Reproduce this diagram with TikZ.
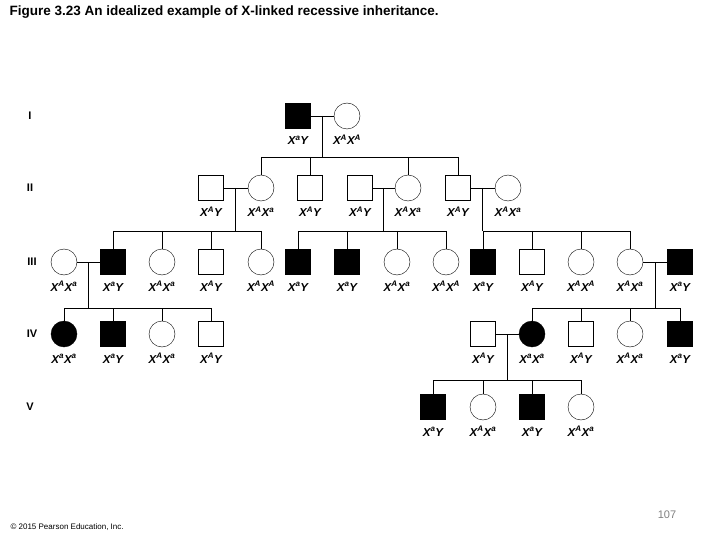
\documentclass[tikz,border=0pt]{standalone}
\usepackage{fontspec}
\setmainfont{Liberation Sans}
\usetikzlibrary{positioning}
\newcommand{\Xg}[1]{X\textsuperscript{#1}}
\begin{document}
\begin{tikzpicture}[
  x=1pt, y=-1pt,
  male/.style={draw, rectangle, minimum size=25pt, inner sep=0pt, fill=white},
  fem/.style={draw, circle, minimum size=26pt, inner sep=0pt, fill=white},
  aff/.style={fill=black},
  gen/.style={font=\bfseries\itshape\fontsize{11.5}{11.5}\selectfont, inner sep=0pt, anchor=base},
  roman/.style={font=\bfseries\fontsize{11}{11}\selectfont},
  link/.style={draw, line width=0.7pt}
]
\useasboundingbox (0,0) rectangle (720,540);

\node[anchor=west, font=\bfseries\fontsize{13.5}{13.5}\selectfont] (title) at (6,12)
  {Figure 3.23 An idealized example of X-linked recessive inheritance.};
\node[anchor=west, font=\fontsize{8}{8}\selectfont] (copy) at (7,527) {\textcopyright{} 2015 Pearson Education, Inc.};
\node[font=\fontsize{11}{11}\selectfont, text=gray] (page) at (667,515) {107};

% generation numerals
\node[roman] (rI) at (30,116) {I};
\node[roman] (rII) at (30,188) {II};
\node[roman] (rIII) at (32,262) {III};
\node[roman] (rIV) at (32,334) {IV};
\node[roman] (rV) at (30,407) {V};

% generation I
\node[male,aff] (i1) at (298,116) {};
\node[fem] (i2) at (347,116) {};

% generation II
\node[male] (ii1) at (211,188) {};
\node[fem] (ii2) at (261,188) {};
\node[male] (ii3) at (310,188) {};
\node[male] (ii4) at (360,188) {};
\node[fem] (ii5) at (408,188) {};
\node[male] (ii6) at (458,188) {};
\node[fem] (ii7) at (508,188) {};

% generation III
\node[fem] (iii1) at (64,262) {};
\node[male,aff] (iii2) at (113,262) {};
\node[fem] (iii3) at (162,262) {};
\node[male] (iii4) at (211,262) {};
\node[fem] (iii5) at (261,262) {};
\node[male,aff] (iii6) at (298,262) {};
\node[male,aff] (iii7) at (347,262) {};
\node[fem] (iii8) at (397,262) {};
\node[fem] (iii9) at (446,262) {};
\node[male,aff] (iii10) at (483,262) {};
\node[male] (iii11) at (532,262) {};
\node[fem] (iii12) at (581,262) {};
\node[fem] (iii13) at (630,262) {};
\node[male,aff] (iii14) at (680,262) {};

% generation IV
\node[fem,aff] (iv1) at (64,334) {};
\node[male,aff] (iv2) at (113,334) {};
\node[fem] (iv3) at (162,334) {};
\node[male] (iv4) at (211,334) {};
\node[male] (iv5) at (483,334) {};
\node[fem,aff] (iv6) at (532,334) {};
\node[male] (iv7) at (581,334) {};
\node[fem] (iv8) at (630,334) {};
\node[male,aff] (iv9) at (680,334) {};

% generation V
\node[male,aff] (v1) at (433,407) {};
\node[fem] (v2) at (483,407) {};
\node[male,aff] (v3) at (532,407) {};
\node[fem] (v4) at (581,407) {};

% genotypes
\foreach \n/\g in {i1/\Xg{a}Y, i2/\Xg{A}\Xg{A},
  ii1/\Xg{A}Y, ii2/\Xg{A}\Xg{a}, ii3/\Xg{A}Y, ii4/\Xg{A}Y, ii5/\Xg{A}\Xg{a}, ii6/\Xg{A}Y, ii7/\Xg{A}\Xg{a},
  iii1/\Xg{A}\Xg{a}, iii2/\Xg{a}Y, iii3/\Xg{A}\Xg{a}, iii4/\Xg{A}Y, iii5/\Xg{A}\Xg{A}, iii6/\Xg{a}Y, iii7/\Xg{a}Y,
  iii8/\Xg{A}\Xg{a}, iii9/\Xg{A}\Xg{A}, iii10/\Xg{a}Y, iii11/\Xg{A}Y, iii12/\Xg{A}\Xg{A}, iii13/\Xg{A}\Xg{a}, iii14/\Xg{a}Y,
  iv1/\Xg{a}\Xg{a}, iv2/\Xg{a}Y, iv3/\Xg{A}\Xg{a}, iv4/\Xg{A}Y, iv5/\Xg{A}Y, iv6/\Xg{a}\Xg{a}, iv7/\Xg{A}Y, iv8/\Xg{A}\Xg{a}, iv9/\Xg{a}Y,
  v1/\Xg{a}Y, v2/\Xg{A}\Xg{a}, v3/\Xg{a}Y, v4/\Xg{A}\Xg{a}}
  \node[gen] (\n-g) at ([yshift=-29pt]\n.center) {\g};

% matings and sibships
\draw[link] (i1) -- coordinate (mI) (i2);
\draw[link] (mI) -- ++(0,41) coordinate (sI);
\draw[link] (ii2 |- sI) -- (ii6 |- sI);
\foreach \c in {ii2,ii3,ii5,ii6} \draw[link] (\c |- sI) -- (\c);

\draw[link] (ii1) -- coordinate (mA) (ii2);
\draw[link] (ii4) -- coordinate (mB) (ii5);
\draw[link] (ii6) -- coordinate (mC) (ii7);
\draw[link] (mA) -- ++(0,43) coordinate (sA);
\draw[link] (mB) -- ++(0,43) coordinate (sB);
\draw[link] (mC) -- ++(0,43) coordinate (sC);
\draw[link] (iii2 |- sA) -- (iii5 |- sA);
\draw[link] (iii6 |- sB) -- (iii9 |- sB);
\draw[link] (iii10 |- sC) -- (iii13 |- sC);
\foreach \c in {iii2,iii3,iii4,iii5} \draw[link] (\c |- sA) -- (\c);
\foreach \c in {iii6,iii7,iii8,iii9} \draw[link] (\c |- sB) -- (\c);
\foreach \c in {iii10,iii11,iii12,iii13} \draw[link] (\c |- sC) -- (\c);

\draw[link] (iii1) -- coordinate (mD) (iii2);
\draw[link] (iii13) -- coordinate (mE) (iii14);
\draw[link] (mD) -- ++(0,46) coordinate (sD);
\draw[link] (mE) -- ++(0,46) coordinate (sE);
\draw[link] (iv1 |- sD) -- (iv4 |- sD);
\draw[link] (iv6 |- sE) -- (iv9 |- sE);
\foreach \c in {iv1,iv2,iv3,iv4} \draw[link] (\c |- sD) -- (\c);
\foreach \c in {iv6,iv7,iv8,iv9} \draw[link] (\c |- sE) -- (\c);

\draw[link] (iv5) -- coordinate (mF) (iv6);
\draw[link] (mF) -- ++(0,46) coordinate (sF);
\draw[link] (v1 |- sF) -- (v4 |- sF);
\foreach \c in {v1,v2,v3,v4} \draw[link] (\c |- sF) -- (\c);
\end{tikzpicture}
\end{document}
